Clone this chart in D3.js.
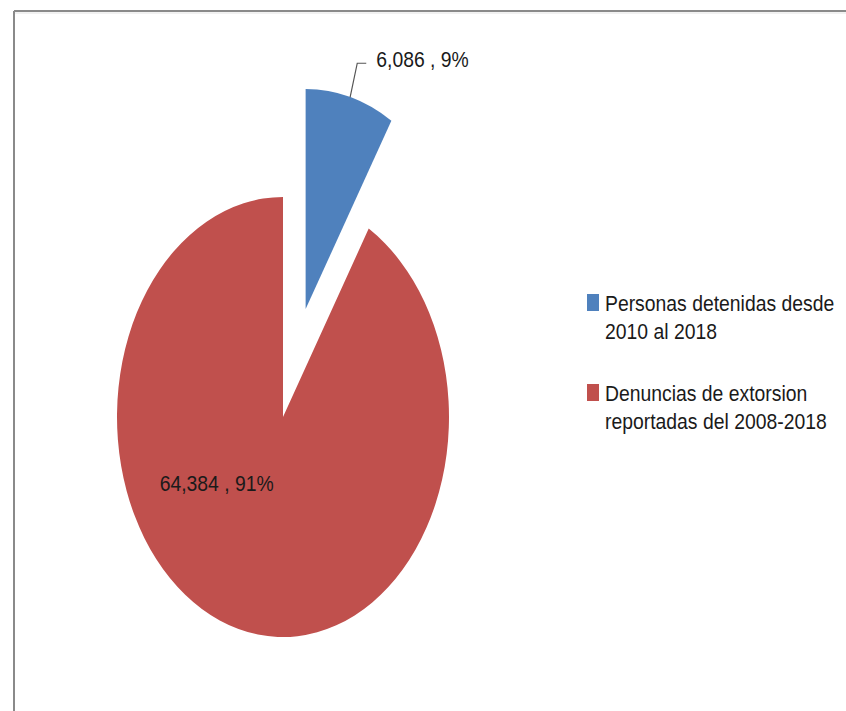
<!DOCTYPE html>
<html>
<head>
<meta charset="utf-8">
<script src="https://cdn.jsdelivr.net/npm/d3@7"></script>
<style>
  body { margin: 0; background: #fff; }
  text { font-family: "Liberation Sans", Arial, sans-serif; fill: #1a1a1a; }
</style>
</head>
<body>
<svg width="846" height="711"></svg>
<script>
// data
const categories = ["Personas detenidas desde 2010 al 2018", "Denuncias de extorsion reportadas del 2008-2018"]
const legendLines = [["Personas detenidas desde", "2010 al 2018"], ["Denuncias de extorsion", "reportadas del 2008-2018"]]
const values = [6086, 64384]
const colors = ["#4F81BD", "#C0504D"]

let svg = d3.select("svg")

// chart frame (only top and left edges are visible in the picture)
svg.append("line").attr("x1", 14).attr("y1", 11).attr("x2", 846).attr("y2", 11)
  .attr("stroke", "#8a8a8a").attr("stroke-width", 2)
svg.append("line").attr("x1", 14).attr("y1", 11).attr("x2", 14).attr("y2", 711)
  .attr("stroke", "#8a8a8a").attr("stroke-width", 2)
svg.append("line").attr("x1", 15).attr("y1", 13).attr("x2", 846).attr("y2", 13)
  .attr("stroke", "#e4e4e4").attr("stroke-width", 1)

let cx = 283, cy = 417
let R = 220
let sx = 166 / 220      // the pie is stretched vertically
let explode = 112
let textScale = 0.88

let total = d3.sum(values)
let fmt = d3.format(",")

let pie = d3.pie().sort(null).value((d) => d)
let arcs = pie(values)
let arc = d3.arc().innerRadius(0).outerRadius(R)

let offset = (d, i) => {
  if (i != 0) return [0, 0]
  let mid = (d.startAngle + d.endAngle) / 2
  return [Math.sin(mid) * explode, -Math.cos(mid) * explode]
}

let g = svg.append("g")
  .attr("transform", "translate(" + cx + "," + cy + ") scale(" + sx + ",1)")

g.selectAll("path")
  .data(arcs)
  .join("path")
  .attr("transform", (d, i) => "translate(" + offset(d, i) + ")")
  .attr("d", arc)
  .attr("fill", (d, i) => colors[i])

let label = (d) => fmt(d.data) + " , " + Math.round(d.data / total * 100) + "%"

function addText(x, y, txt, anchor) {
  svg.append("g")
    .attr("transform", "translate(" + x + "," + y + ") scale(" + textScale + ",1)")
    .append("text")
    .attr("text-anchor", anchor)
    .attr("font-size", "22px")
    .text(txt)
}

// blue slice: outside label with leader line
let b = arcs[0]
let bmid = (b.startAngle + b.endAngle) / 2
let bo = offset(b, 0)
let toScreen = (r) => [cx + sx * (bo[0] + Math.sin(bmid) * r), cy + bo[1] - Math.cos(bmid) * r]
let p1 = toScreen(R)
let p2 = toScreen(R * 1.16)
svg.append("path")
  .attr("d", d3.line()([p1, p2, [p2[0] + 9, p2[1]]]))
  .attr("fill", "none")
  .attr("stroke", "#555")
  .attr("stroke-width", 1.2)
addText(p2[0] + 19, p2[1] + 4, label(b), "start")

// red slice: inside label
let r = arcs[1]
let la = 233 * Math.PI / 180
let lr = 0.5 * R
addText(cx + sx * Math.sin(la) * lr, cy - Math.cos(la) * lr + 8, label(r), "middle")

// legend
let legend = svg.append("g")
legendLines.forEach((lines, i) => {
  let top = 294 + i * 90
  legend.append("rect")
    .attr("x", 587).attr("y", top)
    .attr("width", 12).attr("height", 17)
    .attr("fill", colors[i])
  lines.forEach((ln, j) => {
    addText(605, top + 17 + j * 28, ln, "start")
  })
})
</script>
</body>
</html>
